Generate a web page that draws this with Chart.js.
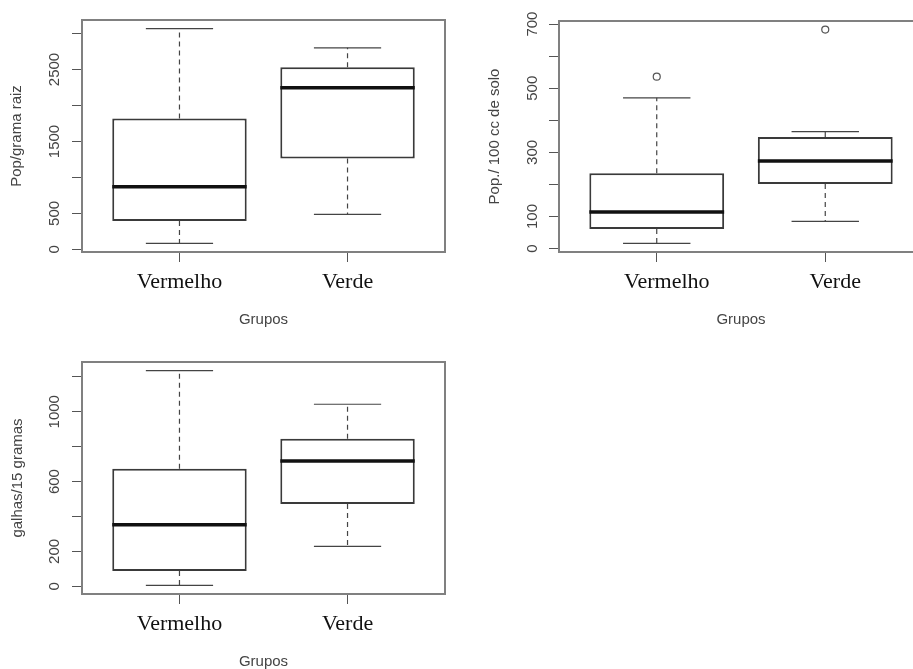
<!DOCTYPE html>
<html>
<head>
<meta charset="utf-8">
<script src="https://cdn.jsdelivr.net/npm/chart.js@4.4.1/dist/chart.umd.min.js"></script>
<style>
  html, body { margin: 0; padding: 0; background: #fff; overflow: hidden; width: 913px; height: 669px; }
  .panel { position: absolute; }
</style>
</head>
<body>
<div class="panel" style="left:0;top:0"><canvas id="chartRaiz" width="456" height="335"></canvas></div>
<div class="panel" style="left:456px;top:0"><canvas id="chartSolo" width="480" height="335"></canvas></div>
<div class="panel" style="left:0;top:335px"><canvas id="chartGalhas" width="456" height="342"></canvas></div>
<script>
// groups on the x axis (R puts them at 1 and 2)
const groups = ['Vermelho', 'Verde'];
const groupPos = [1, 2];

// Pop/grama raiz
const raizLow = [83, 486];
const raizQ1 = [394, 1264];
const raizMed = [870, 2245];
const raizQ3 = [1819, 2532];
const raizHigh = [3069, 2801];
const raizOut = [[], []];
const raizTicks = [0, 500, 1000, 1500, 2000, 2500, 3000];
const raizTickLabels = ['0', '500', '', '1500', '', '2500', ''];

// Pop./ 100 cc de solo
const soloLow = [16, 85];
const soloQ1 = [61, 201];
const soloMed = [114, 273];
const soloQ3 = [235, 348];
const soloHigh = [470, 365];
const soloOut = [[536], [683]];
const soloTicks = [0, 100, 200, 300, 400, 500, 600, 700];
const soloTickLabels = ['0', '100', '', '300', '', '500', '', '700'];

// galhas/15 gramas
const galhasLow = [5, 229];
const galhasQ1 = [88, 472];
const galhasMed = [353, 718];
const galhasQ3 = [673, 845];
const galhasHigh = [1236, 1043];
const galhasOut = [[], []];
const galhasTicks = [0, 200, 400, 600, 800, 1000, 1200];
const galhasTickLabels = ['0', '200', '', '600', '', '1000', ''];

const sans = 'Liberation Sans, Arial, sans-serif';
const serif = 'Liberation Serif, Times New Roman, serif';

function line(ctx, x1, y1, x2, y2) {
    ctx.beginPath();
    ctx.moveTo(x1, y1);
    ctx.lineTo(x2, y2);
    ctx.stroke();
}

function boxChart(id, o) {
    const outs = o.out.flat();
    const lo = Math.min(...o.low, ...outs);
    const hi = Math.max(...o.high, ...outs);
    const ext = (hi - lo) * 0.04; // R's default axis extension

    // whiskers, staples and medians, placed on the bars Chart.js laid out
    const whiskers = {
        id: 'whiskers',
        afterDatasetsDraw(chart) {
            const ctx = chart.ctx;
            const y = chart.scales.y;
            ctx.save();
            chart.getDatasetMeta(0).data.forEach((bar, i) => {
                const x = bar.x, w = bar.width;
                ctx.strokeStyle = '#444';
                ctx.lineWidth = 1.2;
                ctx.setLineDash([5, 4]);
                line(ctx, x, y.getPixelForValue(o.q3[i]), x, y.getPixelForValue(o.high[i]));
                line(ctx, x, y.getPixelForValue(o.q1[i]), x, y.getPixelForValue(o.low[i]));
                ctx.setLineDash([]);
                line(ctx, x - w / 4, y.getPixelForValue(o.high[i]), x + w / 4, y.getPixelForValue(o.high[i]));
                line(ctx, x - w / 4, y.getPixelForValue(o.low[i]), x + w / 4, y.getPixelForValue(o.low[i]));
                ctx.strokeStyle = '#111';
                ctx.lineWidth = 3.5;
                line(ctx, x - w / 2, y.getPixelForValue(o.med[i]), x + w / 2, y.getPixelForValue(o.med[i]));
            });
            ctx.restore();
        }
    };

    const frame = {
        id: 'frame',
        afterDraw(chart) {
            const {left, top, width, height} = chart.chartArea;
            const ctx = chart.ctx;
            ctx.save();
            ctx.strokeStyle = '#808080';
            ctx.lineWidth = 2;
            ctx.strokeRect(left, top, width, height);
            ctx.restore();
        }
    };

    return new Chart(document.getElementById(id), {
        type: 'bar',
        data: {
            datasets: [
                {
                    data: groupPos.map((p, i) => ({ x: p, y: [o.q1[i], o.q3[i]] })),
                    backgroundColor: '#fff',
                    borderColor: '#3a3a3a',
                    borderWidth: 2,
                    borderSkipped: false,
                    barPercentage: 0.8,
                    categoryPercentage: 1
                },
                {
                    type: 'scatter',
                    data: o.out.flatMap((vals, i) => vals.map(v => ({ x: groupPos[i], y: v }))),
                    pointStyle: 'circle',
                    pointRadius: 3.5,
                    borderWidth: 1.2,
                    borderColor: '#555',
                    backgroundColor: 'rgba(0,0,0,0)'
                }
            ]
        },
        options: {
            responsive: false,
            animation: false,
            layout: { padding: { top: o.top, right: o.right, left: 0, bottom: 0 } },
            plugins: {
                legend: { display: false },
                tooltip: { enabled: false }
            },
            scales: {
                x: {
                    type: 'linear',
                    min: 0.42,
                    max: 2.58,
                    offset: false,
                    afterBuildTicks: s => { s.ticks = groupPos.map(v => ({ value: v })); },
                    afterFit: s => { s.height = 83; },
                    grid: { offset: false, drawOnChartArea: false, tickLength: 10, color: '#555' },
                    border: { display: false },
                    ticks: {
                        callback: v => groups[groupPos.indexOf(v)],
                        font: { family: serif, size: 22 },
                        color: '#111',
                        padding: 7,
                        autoSkip: false,
                        maxRotation: 0,
                        labelOffset: o.xShift
                    },
                    title: {
                        display: true,
                        text: 'Grupos',
                        font: { family: sans, size: 15 },
                        color: '#444',
                        padding: { top: 0, bottom: 6 }
                    }
                },
                y: {
                    min: lo - ext,
                    max: hi + ext,
                    afterBuildTicks: s => { s.ticks = o.ticks.map(v => ({ value: v })); },
                    afterFit: s => { s.width = o.axisWidth; },
                    grid: { drawOnChartArea: false, tickLength: 10, color: '#555' },
                    border: { display: false },
                    ticks: {
                        callback: v => o.tickLabels[o.ticks.indexOf(v)],
                        font: { family: sans, size: 15 },
                        color: '#444',
                        minRotation: 90,
                        maxRotation: 90,
                        crossAlign: 'center',
                        padding: o.tickPad,
                        autoSkip: false
                    },
                    title: {
                        display: true,
                        text: o.title,
                        font: { family: sans, size: 15 },
                        color: '#444',
                        padding: { top: o.titlePad, bottom: 0 }
                    }
                }
            }
        },
        plugins: [whiskers, frame]
    });
}

boxChart('chartRaiz', {
    low: raizLow, q1: raizQ1, med: raizMed, q3: raizQ3, high: raizHigh, out: raizOut,
    ticks: raizTicks, tickLabels: raizTickLabels, title: 'Pop/grama raiz',
    top: 20, right: 11, axisWidth: 82, tickPad: 0, titlePad: 8, xShift: 0
});

boxChart('chartSolo', {
    low: soloLow, q1: soloQ1, med: soloMed, q3: soloQ3, high: soloHigh, out: soloOut,
    ticks: soloTicks, tickLabels: soloTickLabels, title: 'Pop./ 100 cc de solo',
    top: 21, right: 13, axisWidth: 103, tickPad: 4, titlePad: 30, xShift: 10
});

boxChart('chartGalhas', {
    low: galhasLow, q1: galhasQ1, med: galhasMed, q3: galhasQ3, high: galhasHigh, out: galhasOut,
    ticks: galhasTicks, tickLabels: galhasTickLabels, title: 'galhas/15 gramas',
    top: 27, right: 11, axisWidth: 82, tickPad: 0, titlePad: 9, xShift: 0
});
</script>
</body>
</html>
